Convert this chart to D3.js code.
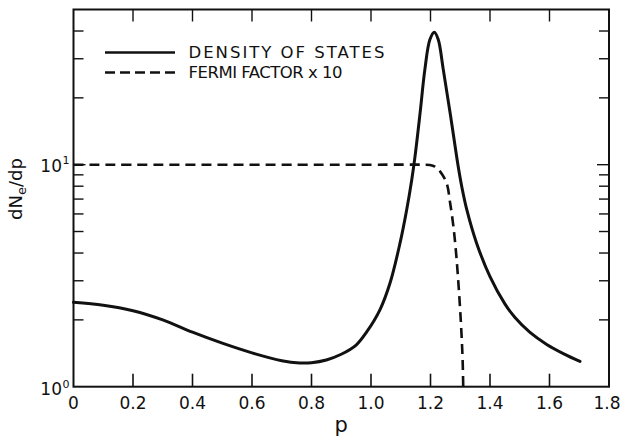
<!DOCTYPE html>
<html>
<head>
<meta charset="utf-8">
<script src="https://cdn.jsdelivr.net/npm/d3@7"></script>
<style>
  body { margin: 0; background: white; }
  text { font-family: "DejaVu Sans", sans-serif; fill: #111; }
</style>
</head>
<body>
<div id="chart"></div>
<script>
// density of states
const dosP = [0, 0.1, 0.2, 0.3, 0.4, 0.5, 0.6, 0.7, 0.76, 0.8, 0.85, 0.9, 0.95, 0.9855, 1.03, 1.064,
  1.0975, 1.12, 1.137, 1.148, 1.165, 1.181, 1.198, 1.213, 1.226, 1.243, 1.266, 1.293, 1.305,
  1.322, 1.355, 1.40, 1.45, 1.484, 1.5345, 1.5906, 1.6464, 1.7025];
const dosVal = [2.40, 2.33, 2.20, 2.00, 1.76, 1.57, 1.42, 1.31, 1.28, 1.283, 1.32, 1.40, 1.54, 1.765, 2.22, 2.93,
  4.43, 6.27, 8.56, 10.9, 17.1, 26.8, 36.6, 39.5, 36.6, 26.8, 17.1, 9.83, 7.98,
  6.27, 4.43, 3.13, 2.36, 2.05, 1.756, 1.55, 1.41, 1.30];

// fermi factor x 10
const fermiP = [0, 1.0, 1.17, 1.198, 1.215, 1.232, 1.254, 1.266, 1.277, 1.286, 1.293, 1.299, 1.304, 1.308, 1.310];
const fermiVal = [10, 10, 10, 9.97, 9.8, 9.33, 8.27, 6.72, 5.27, 4.0, 3.03, 2.30, 1.75, 1.32, 1.0];

const xTicks = [0, 0.2, 0.4, 0.6, 0.8, 1.0, 1.2, 1.4, 1.6, 1.8];
const xTickLabels = ["0", "0.2", "0.4", "0.6", "0.8", "1.0", "1.2", "1.4", "1.6", "1.8"];
const yMajor = [1, 10];
const yMajorExp = ["0", "1"];
const yMinor = [2, 3, 4, 5, 6, 7, 8, 9, 20, 30, 40];
const legendLabels = ["DENSITY OF STATES", "FERMI FACTOR x 10"];

let config = {
  width: 621,
  height: 441,
  left: 73.5,
  right: 609,
  top: 9.5,
  bottom: 386.7,
  svg: d3.select("#chart").append("svg").attr("width", 621).attr("height", 441)
};

config.x = d3.scaleLinear().domain([0, 1.8]).range([config.left, config.right]);
config.y = d3.scaleLog().domain([1, 50]).range([config.bottom, config.top]);

function drawFrame() {
  let svg = config.svg;
  svg.append("rect")
    .attr("x", config.left)
    .attr("y", config.top)
    .attr("width", config.right - config.left)
    .attr("height", config.bottom - config.top)
    .attr("fill", "none")
    .attr("stroke", "#111")
    .attr("stroke-width", 2);

  // x ticks, inward on bottom and top
  let inner = xTicks.slice(1, -1);
  svg.selectAll("xt")
    .data(inner)
    .enter()
    .append("line")
    .attr("x1", d => config.x(d)).attr("x2", d => config.x(d))
    .attr("y1", config.bottom).attr("y2", config.bottom - 13)
    .attr("stroke", "#111").attr("stroke-width", 1.6);
  svg.selectAll("xtt")
    .data(inner)
    .enter()
    .append("line")
    .attr("x1", d => config.x(d)).attr("x2", d => config.x(d))
    .attr("y1", config.top).attr("y2", config.top + 12)
    .attr("stroke", "#111").attr("stroke-width", 1.4);

  svg.selectAll("xl")
    .data(xTicks)
    .enter()
    .append("text")
    .attr("x", d => Math.min(config.x(d), config.width - 14))
    .attr("y", 408.5)
    .attr("text-anchor", "middle")
    .attr("font-size", 17)
    .text((d, i) => xTickLabels[i]);

  // y ticks both sides
  let yt = yMajor.slice(1).map(v => ({ v: v, len: 12 }))
    .concat(yMinor.map(v => ({ v: v, len: 10 })));
  [config.left, config.right].forEach((edge, side) => {
    svg.selectAll("yt" + side)
      .data(yt)
      .enter()
      .append("line")
      .attr("x1", edge)
      .attr("x2", d => side === 0 ? edge + d.len : edge - d.len)
      .attr("y1", d => config.y(d.v)).attr("y2", d => config.y(d.v))
      .attr("stroke", "#111").attr("stroke-width", 1.4);
  });

  svg.selectAll("yl")
    .data(yMajor)
    .enter()
    .append("text")
    .attr("x", 62)
    .attr("y", (d, i) => config.y(d) + (i === 0 ? 8 : 7))
    .attr("text-anchor", "end")
    .attr("font-size", 17)
    .text("10");
  svg.selectAll("ye")
    .data(yMajor)
    .enter()
    .append("text")
    .attr("x", 62.5)
    .attr("y", (d, i) => config.y(d) + (i === 0 ? 1.5 : -0.5))
    .attr("font-size", 11)
    .text((d, i) => yMajorExp[i]);

  svg.append("text")
    .attr("x", config.x(0.9))
    .attr("y", 432)
    .attr("text-anchor", "middle")
    .attr("font-size", 21)
    .text("p");

  let ylab = svg.append("text")
    .attr("transform", "translate(22,189) rotate(-90)")
    .attr("text-anchor", "middle")
    .attr("font-size", 18);
  ylab.append("tspan").text("dN");
  ylab.append("tspan").attr("font-size", 13).attr("dy", 4).text("e");
  ylab.append("tspan").attr("dy", -4).text("/dp");
}

function drawCurves() {
  let line = d3.line()
    .x(d => config.x(d[0]))
    .y(d => config.y(d[1]))
    .curve(d3.curveCatmullRom.alpha(0.5));

  config.svg.append("path")
    .attr("d", line(dosP.map((p, i) => [p, dosVal[i]])))
    .attr("fill", "none")
    .attr("stroke", "#111")
    .attr("stroke-width", 3)
    .attr("stroke-linejoin", "round")
    .attr("stroke-linecap", "round");

  config.svg.append("path")
    .attr("d", line(fermiP.map((p, i) => [p, fermiVal[i]])))
    .attr("fill", "none")
    .attr("stroke", "#111")
    .attr("stroke-width", 2.6)
    .attr("stroke-dasharray", "10,6");
}

function drawLegend() {
  let rows = [{ y: 52.5, dash: null }, { y: 72.5, dash: "10,5" }];
  rows.forEach((r, i) => {
    config.svg.append("line")
      .attr("x1", 105).attr("x2", 175)
      .attr("y1", r.y).attr("y2", r.y)
      .attr("stroke", "#111")
      .attr("stroke-width", i === 0 ? 2.6 : 2.4)
      .attr("stroke-dasharray", r.dash);
    config.svg.append("text")
      .attr("x", 188.5)
      .attr("y", r.y + 5.5)
      .attr("font-size", 16.5)
      .attr("textLength", i === 0 ? 196 : 154)
      .attr("lengthAdjust", "spacing")
      .text(legendLabels[i]);
  });
}

drawFrame();
drawCurves();
drawLegend();
</script>
</body>
</html>
